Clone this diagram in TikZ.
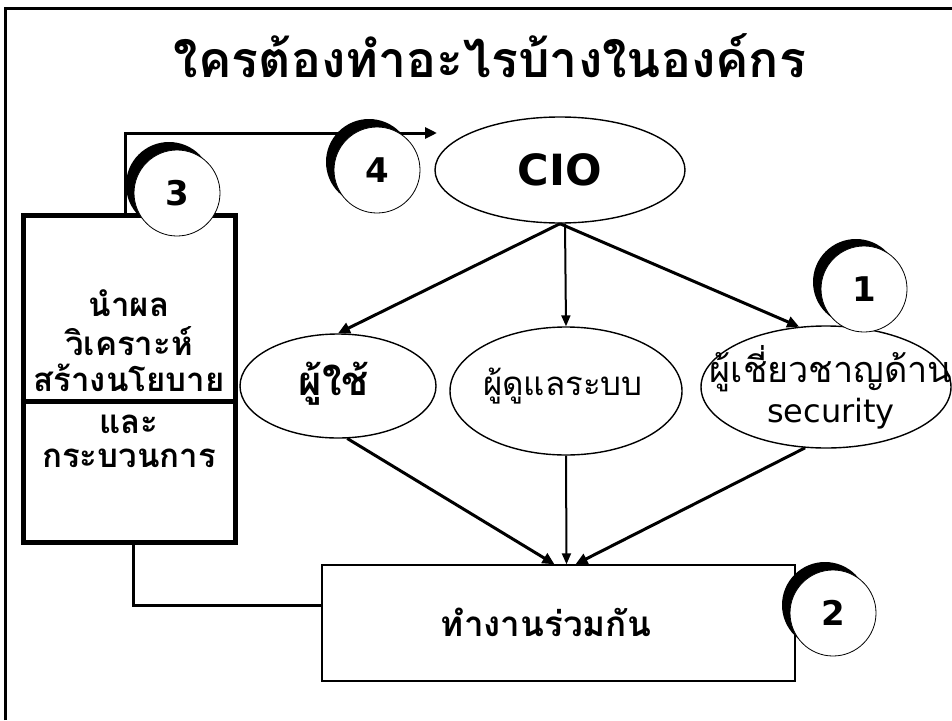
\documentclass[tikz,border=0pt]{standalone}
\usepackage{fontspec}
\setmainfont{DejaVu Sans}
\newfontfamily\thai[Script=Thai]{Loma}
\usetikzlibrary{shapes.geometric,arrows.meta}
\begin{document}
\begin{tikzpicture}[x=1pt,y=-1pt,
  ell/.style={draw,ellipse,line width=1.4pt,fill=white,inner sep=0pt},
  thick arrow/.style={line width=3pt,-{Triangle[length=12pt,width=11pt]}},
  thin arrow/.style={line width=2pt,-{Triangle[length=11pt,width=9pt]}},
  numc/.style={circle,draw,line width=0.8pt,fill=white,minimum size=86pt,inner sep=0pt,
    font=\fontsize{34}{40}\selectfont\bfseries},
  shadowc/.style={fill=black},
  boxtxt/.style={font=\thai\fontsize{33}{38}\selectfont\bfseries,inner sep=0pt}]
\useasboundingbox (0,0) rectangle (952,720);
\fill[white] (0,0) rectangle (952,720);
% frame (top and left edges only visible)
\draw[line width=3pt] (5,720) -- (5,8) -- (952,8);
% title
\node[font=\thai\fontsize{50}{56}\selectfont\bfseries] (title) at (490,56) {ใครต้องทำอะไรบ้างในองค์กร};
% left box
\node[draw,line width=5pt,minimum width=212pt,minimum height=327pt,inner sep=0pt] (box3) at (129,378.5) {};
\draw[line width=5pt] (box3.west |- 0,401) -- (box3.east |- 0,401);
\node[boxtxt] (t1) at (129,303) {นำผล};
\node[boxtxt] (t2) at (129,341) {วิเคราะห์};
\node[boxtxt] (t3) at (129,378) {สร้างนโยบาย};
\node[boxtxt] (t4) at (129,424) {และ};
\node[boxtxt] (t5) at (129,458) {กระบวนการ};
% ellipses
\node[ell,minimum width=250pt,minimum height=106pt] (cio) at (560,170) {};
\node[font=\fontsize{43}{48}\selectfont\bfseries] (ciot) at (cio.center) {CIO};
\node[ell,minimum width=196pt,minimum height=104pt] (user) at (338,386) {};
\node[font=\thai\fontsize{40}{46}\selectfont\bfseries] (usert) at (334,384) {ผู้ใช้};
\node[ell,minimum width=232pt,minimum height=128pt] (admin) at (566,391) {};
\node[font=\thai\fontsize{33}{38}\selectfont] (admint) at (563,386) {ผู้ดูแลระบบ};
\node[ell,minimum width=250pt,minimum height=122pt] (expert) at (826,387) {};
\node[font=\thai\fontsize{36}{42}\selectfont,inner sep=0pt] (expertt1) at (831,369) {ผู้เชี่ยวชาญด้าน};
\node[font=\fontsize{32}{38}\selectfont,inner sep=0pt] (expertt2) at (831,414) {security};
% work box
\node[draw,line width=1.4pt,fill=white,minimum width=473pt,minimum height=116pt,inner sep=0pt] (work) at (558.5,623) {};
\node[font=\thai\fontsize{35}{40}\selectfont\bfseries] (workt) at (546,622) {ทำงานร่วมกัน};
% connectors
\coordinate (cioin) at (437,133);
\draw[thick arrow] ([xshift=-4pt]box3.north) |- (cioin);
\draw[line width=3pt] ([xshift=4pt]box3.south) |- ([yshift=18pt]work.west);
\draw[thick arrow] (cio.south) -- (user.north);
\draw[thin arrow] ([xshift=5pt]cio.south) -- (admin.north);
\draw[thick arrow] (cio.south) -- (expert.114);
\draw[thick arrow] (user.-80) -- ([xshift=-4pt]work.north);
\draw[thin arrow] (admin.south) -- ([xshift=8pt]work.north);
\draw[thick arrow] (expert.-109) -- ([xshift=17pt]work.north);
% numbered circles with offset black crescent
\fill[shadowc] (169,185) circle[radius=43];
\node[numc] (c3) at (177,193) {3};
\fill[shadowc] (369,162) circle[radius=43];
\node[numc] (c4) at (377,170) {4};
\fill[shadowc] (856,282) circle[radius=43];
\node[numc] (c1) at (864,289) {1};
\fill[shadowc] (825,605) circle[radius=43];
\node[numc] (c2) at (833,613) {2};
\end{tikzpicture}
\end{document}
